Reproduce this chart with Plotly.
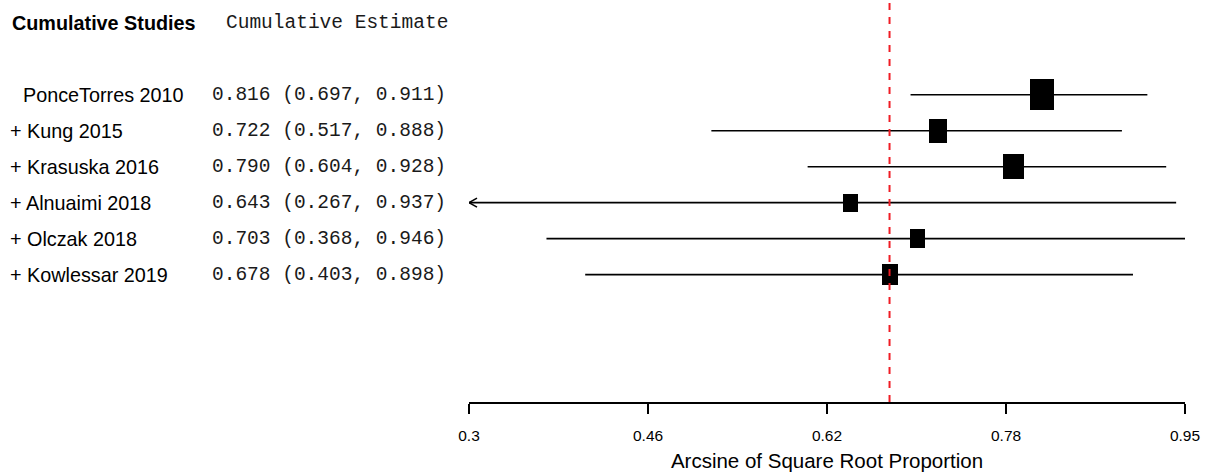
import plotly.graph_objects as go

# ---------------- data ----------------
studies = ["PonceTorres 2010", "+ Kung 2015", "+ Krasuska 2016",
           "+ Alnuaimi 2018", "+ Olczak 2018", "+ Kowlessar 2019"]
estimate = [0.816, 0.722, 0.790, 0.643, 0.703, 0.678]
ci_lower = [0.697, 0.517, 0.604, 0.267, 0.368, 0.403]
ci_upper = [0.911, 0.888, 0.928, 0.937, 0.946, 0.898]
tick_values = [0.298, 0.4598, 0.6215, 0.7833, 0.945]
tick_labels = ["0.3", "0.46", "0.62", "0.78", "0.95"]
header_left = "Cumulative Studies"
header_right = "Cumulative Estimate"
x_title = "Arcsine of Square Root Proportion"

# ---------------- style / layout ----------------
W, H = 1207, 475
ML, MR, MT, MB = 469, 22, 0, 73
XMIN, XMAX = tick_values[0], tick_values[-1]
YMIN, YMAX = -2.537, 8.63
PX_X = (W - ML - MR) / (XMAX - XMIN)
PX_Y = (H - MT - MB) / (YMAX - YMIN)

box_w_px = [24, 18, 21, 15, 15, 16]
box_h_px = [31, 24, 25, 18, 19, 21]

SANS = "Liberation Sans, Arial, Helvetica, sans-serif"
MONO = "Liberation Mono, Courier New, DejaVu Sans Mono, monospace"
LW = 1.6
LABEL_SIZE = 19.8
TICK_SIZE = 15.5
MONO_COLOR = "#1a1a1a"

n = len(studies)
rows = [n - i for i in range(n)]

fig = go.Figure()

# CI lines (with left arrow when truncated)
for i in range(n):
    y = rows[i]
    lo = max(ci_lower[i], XMIN)
    hi = min(ci_upper[i], XMAX + 0.002)
    fig.add_trace(go.Scatter(x=[lo, hi], y=[y, y], mode="lines",
                             line=dict(color="black", width=LW),
                             hoverinfo="skip", showlegend=False))
    if ci_lower[i] < XMIN:
        dx = 8 / PX_X
        dy = 4.5 / PX_Y
        fig.add_trace(go.Scatter(x=[XMIN + dx, XMIN, XMIN + dx],
                                 y=[y + dy, y, y - dy], mode="lines",
                                 line=dict(color="black", width=LW),
                                 hoverinfo="skip", showlegend=False))

# Point estimate boxes as horizontal bars
widths = [w / PX_X for w in box_w_px]
heights = [h / PX_Y for h in box_h_px]
fig.add_trace(go.Bar(
    x=widths,
    base=[e - w / 2 for e, w in zip(estimate, widths)],
    y=rows, width=heights, orientation="h",
    marker=dict(color="black", line=dict(width=0)),
    hoverinfo="skip", showlegend=False))

# Reference line at final cumulative estimate
fig.add_shape(type="line", xref="x", yref="paper",
              x0=estimate[-1], x1=estimate[-1], y0=0, y1=1,
              line=dict(color="#f01c24", width=2, dash="7px,7px"))

# Text columns
label_x_px = 8
first_x_px = 21
est_right_px = 448
for i in range(n):
    xs = (first_x_px if i == 0 else label_x_px) - ML
    fig.add_annotation(x=0, xref="paper", y=rows[i], yref="y",
                       xanchor="left", yanchor="middle", xshift=xs,
                       text=studies[i], showarrow=False,
                       font=dict(family=SANS, size=LABEL_SIZE, color="black"))
    txt = f"{estimate[i]:.3f} ({ci_lower[i]:.3f}, {ci_upper[i]:.3f})"
    fig.add_annotation(x=0, xref="paper", y=rows[i], yref="y",
                       xanchor="right", yanchor="middle", xshift=est_right_px - ML,
                       text=txt, showarrow=False,
                       font=dict(family=MONO, size=19.5, color=MONO_COLOR))

header_row = n + 2
fig.add_annotation(x=0, xref="paper", y=header_row, yref="y",
                   xanchor="left", yanchor="middle", xshift=10 - ML,
                   text=f"<b>{header_left}</b>", showarrow=False,
                   font=dict(family=SANS, size=LABEL_SIZE, color="black"))
fig.add_annotation(x=0, xref="paper", y=header_row, yref="y",
                   xanchor="right", yanchor="middle", xshift=est_right_px + 2 - ML,
                   text=header_right, showarrow=False,
                   font=dict(family=MONO, size=19.5, color=MONO_COLOR))

fig.update_layout(
    width=W, height=H,
    margin=dict(l=ML, r=MR, t=MT, b=MB),
    paper_bgcolor="white", plot_bgcolor="white",
    barmode="overlay", bargap=0,
    showlegend=False,
    xaxis=dict(range=[XMIN, XMAX], showgrid=False, zeroline=False,
               showline=True, linecolor="black", linewidth=LW,
               ticks="outside", ticklen=10, tickwidth=LW, tickcolor="black",
               tickvals=tick_values, ticktext=tick_labels,
               ticklabelstandoff=9,
               tickfont=dict(family=SANS, size=TICK_SIZE, color="black"),
               title=dict(text=x_title, standoff=10,
                          font=dict(family=SANS, size=20.5, color="black"))),
    yaxis=dict(range=[YMIN, YMAX], visible=False, fixedrange=True),
)

fig.write_html("out.html",
               config={"displayModeBar": False},
               post_script="document.body.style.margin='0';document.body.style.padding='0';")
